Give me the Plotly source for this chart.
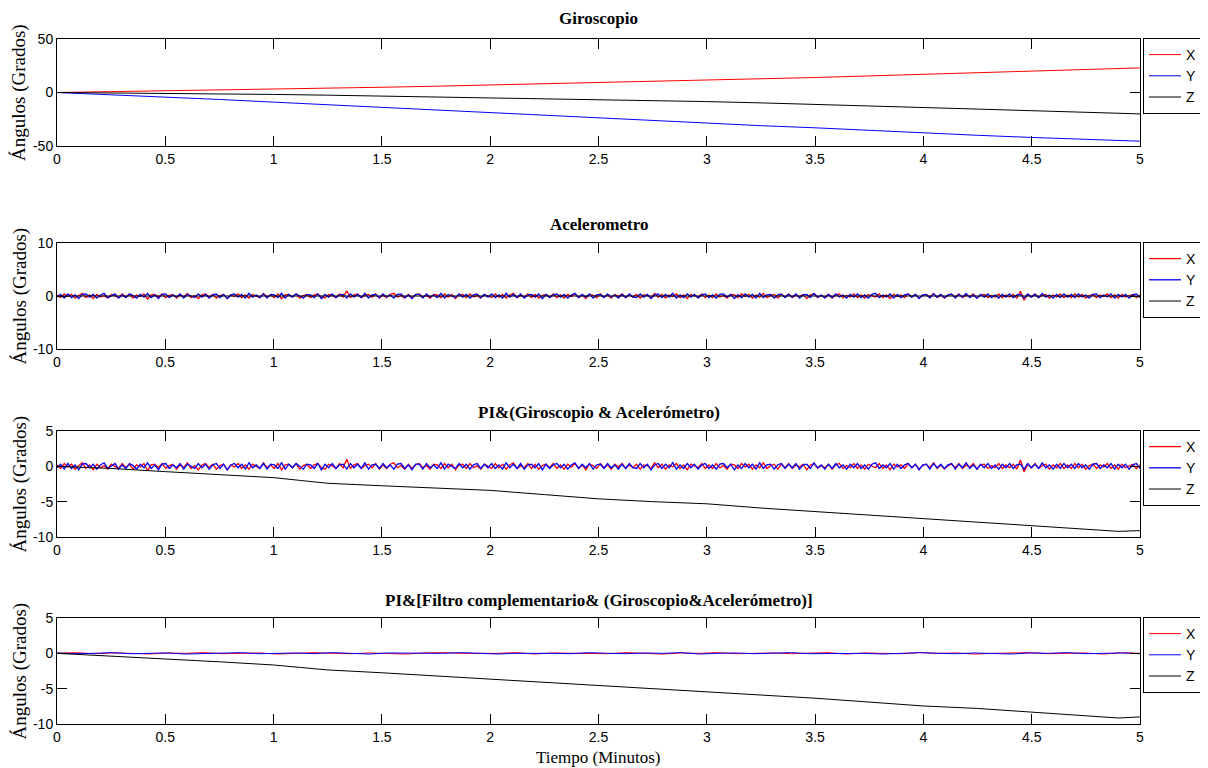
import numpy as np
import plotly.graph_objects as go

# ---------------- data ----------------
x_ticks = [0, 0.5, 1, 1.5, 2, 2.5, 3, 3.5, 4, 4.5, 5]
x_tick_labels = ["0", "0.5", "1", "1.5", "2", "2.5", "3", "3.5", "4", "4.5", "5"]

# Giroscopio
gyro_t = [0, 0.25, 0.5, 0.75, 1.0, 1.25, 1.5, 1.75, 2.0, 2.25, 2.5, 2.75, 3.0,
          3.25, 3.5, 3.75, 4.0, 4.25, 4.5, 4.75, 5.0]
gyro_x = [0, 0.7, 1.5, 2.2, 3.0, 3.9, 4.9, 5.9, 7.0, 8.0, 9.0, 10.2, 11.5,
          12.7, 14.0, 15.5, 17.0, 18.5, 20.0, 21.5, 23.0]
gyro_y = [0, -2, -4, -6.5, -9, -11.5, -14, -16.5, -19, -21.5, -24, -26.5, -29,
          -31, -33, -35.5, -38, -40, -42, -44, -45.5]
gyro_z = [0, -0.3, -0.8, -1.3, -1.8, -2.5, -3.3, -4.0, -4.7, -5.6, -6.5, -7.5, -8.5,
          -9.7, -11, -12.5, -14, -15.5, -17, -18.5, -20]

# Acelerometro (noise around zero, read by eye)
acc_x = [0.2, -0.3, 0.4, -0.1, 0.3, -0.4, 0.1, 0.5, -0.3, 0.2, -0.5, 0.3, -0.2, 0.1, -0.4, 0.3, 0.0, -0.3, 0.4, -0.2,
         0.3, -0.4, 0.2, -0.1, 0.4, -0.6, 0.2, 0.3, -0.2, 0.4, -0.3, 0.1, 0.3, -0.4, 0.2, -0.2, 0.5, -0.3, 0.1, -0.5,
         0.2, 0.4, -0.2, 0.3, -0.4, 0.1, 0.3, -0.5, 0.2, -0.1, 0.4, -0.3, 0.2, -0.4, 0.3, 0.0, -0.3, 0.5, -0.2, 0.2,
         -0.3, 0.4, -0.5, 0.2, 0.3, -0.2, 0.4, -0.4, 0.1, 0.3, -0.3, 0.2, 0.4, -0.2, -0.4, 0.3, 0.1, -0.3, 0.4, -0.2,
         1.0, -0.3, 0.2, 0.4, -0.3, 0.1, 0.3, -0.2, 0.4, -0.4, 0.2, -0.3, 0.3, 0.5, -0.2, 0.1, -0.4, 0.3, -0.3, 0.2,
         0.4, -0.2, 0.1, -0.4, 0.3, 0.2, -0.3, 0.4, -0.2, 0.3, -0.5, 0.2, 0.3, -0.3, 0.4, -0.2, 0.1, -0.4, 0.3, 0.0,
         -0.3, 0.4, -0.2, 0.3, -0.4, 0.2, 0.5, -0.3, 0.1, -0.2, 0.4, -0.3, 0.3, -0.4, 0.1, 0.3, -0.2, 0.4, -0.3, 0.2,
         -0.4, 0.3, -0.1, 0.4, -0.3, 0.2, -0.5, 0.3, 0.1, -0.3, 0.4, -0.2, 0.2, -0.4, 0.3, -0.1, 0.4, -0.3, 0.2, -0.2,
         0.3, -0.4, 0.2, 0.1, -0.3, 0.5, -0.2, 0.3, -0.4, 0.2, -0.1, 0.4, -0.3, 0.2, -0.5, 0.3, 0.1, -0.2, 0.4, -0.3,
         0.2, -0.3, 0.4, -0.2, 0.1, -0.4, 0.3, 0.2, -0.3, 0.4, -0.1, 0.3, -0.4, 0.2, -0.2, 0.5, -0.3, 0.1, 0.3, -0.4,
         0.3, -0.2, 0.4, -0.3, 0.2, -0.1, 0.3, -0.5, 0.2, 0.4, -0.3, 0.1, -0.2, 0.3, -0.4, 0.2, 0.4, -0.3, 0.1, -0.2,
         0.4, -0.3, 0.2, -0.4, 0.3, 0.1, -0.2, 0.4, -0.3, 0.2, -0.5, 0.3, -0.1, 0.2, -0.3, 0.4, -0.2, 0.3, -0.4, 0.1,
         0.3, -0.2, 0.5, -0.3, 0.2, -0.4, 0.1, 0.3, -0.2, 0.4, -0.3, 0.2, -0.1, 0.4, -0.4, 0.2, 0.3, -0.3, 0.1, -0.2,
         0.4, -0.3, 0.2, -0.2, 0.3, -0.4, 0.9, -0.8, 0.3, -0.2, 0.4, -0.3, 0.1, 0.3, -0.4, 0.2, -0.2, 0.4, -0.3, 0.2,
         -0.3, 0.4, -0.2, 0.3, -0.4, 0.1, 0.3, -0.3, 0.2, -0.1, 0.4, -0.3, 0.2, -0.4, 0.3, -0.2, 0.1, 0.3, -0.3, 0.2]
acc_y = [-0.2, 0.3, -0.4, 0.4, -0.3, 0.2, -0.5, 0.3, 0.4, -0.2, 0.3, -0.4, 0.2, 0.5, -0.3, 0.1, 0.4, -0.4, 0.2, -0.3,
         0.4, 0.1, -0.4, 0.3, -0.2, 0.5, -0.3, 0.2, -0.5, 0.3, 0.4, -0.3, 0.2, -0.2, 0.4, -0.4, 0.3, 0.0, -0.3, 0.4,
         -0.2, 0.3, -0.4, 0.2, 0.4, -0.3, 0.3, -0.5, 0.2, 0.4, -0.2, 0.3, -0.4, 0.5, -0.2, 0.2, -0.3, 0.4, -0.4, 0.3,
         0.2, -0.3, 0.5, -0.4, 0.3, -0.2, 0.4, 0.0, -0.4, 0.3, 0.2, -0.3, 0.4, -0.5, 0.3, -0.2, 0.4, -0.3, 0.2, 0.3,
         -0.4, 0.4, -0.2, 0.3, -0.3, 0.5, -0.4, 0.2, 0.3, -0.3, 0.4, -0.2, 0.2, -0.4, 0.3, 0.4, -0.3, 0.2, -0.5, 0.3,
         0.3, -0.4, 0.4, -0.2, 0.2, -0.3, 0.5, -0.4, 0.3, 0.0, -0.3, 0.4, -0.2, 0.3, -0.4, 0.2, 0.4, -0.3, 0.3, -0.2,
         0.4, -0.3, 0.2, -0.4, 0.5, -0.2, 0.3, -0.3, 0.4, -0.4, 0.2, 0.3, -0.2, 0.4, -0.5, 0.3, -0.3, 0.2, 0.4, -0.2,
         0.3, -0.4, 0.2, 0.5, -0.3, 0.3, -0.2, 0.4, -0.4, 0.2, 0.3, -0.3, 0.4, -0.2, 0.2, -0.4, 0.3, -0.3, 0.4, -0.2,
         -0.3, 0.4, -0.2, 0.3, -0.5, 0.2, 0.4, -0.3, 0.3, -0.2, 0.5, -0.4, 0.2, -0.3, 0.4, -0.2, 0.3, -0.4, 0.2, 0.4,
         -0.3, 0.2, -0.4, 0.3, 0.4, -0.2, 0.3, -0.5, 0.2, -0.3, 0.4, -0.2, 0.3, -0.4, 0.5, -0.3, 0.2, 0.3, -0.4, 0.2,
         0.4, -0.3, 0.3, -0.2, 0.4, -0.4, 0.2, 0.3, -0.3, 0.5, -0.2, 0.2, -0.4, 0.3, -0.3, 0.4, -0.2, 0.2, -0.4, 0.3,
         -0.2, 0.4, -0.3, 0.2, -0.4, 0.3, 0.5, -0.3, 0.2, -0.2, 0.4, -0.4, 0.3, -0.3, 0.2, 0.4, -0.2, 0.3, -0.5, 0.2,
         0.3, -0.4, 0.4, -0.2, 0.3, -0.3, 0.2, 0.4, -0.4, 0.3, -0.2, 0.5, -0.3, 0.2, -0.4, 0.3, -0.2, 0.4, -0.3, 0.2,
         -0.4, 0.3, -0.2, 0.4, -0.3, 0.2, 0.3, -0.4, 0.4, -0.2, 0.3, -0.3, 0.5, -0.2, 0.2, -0.4, 0.3, -0.3, 0.4, -0.2,
         0.3, -0.3, 0.4, -0.2, 0.2, -0.4, 0.3, 0.4, -0.3, 0.2, -0.2, 0.4, -0.4, 0.3, -0.2, 0.3, -0.4, 0.2, 0.4, -0.3]
acc_z_t = [0, 5]
acc_z = [0, 0]

# PI & (Giroscopio & Acelerometro) -> Z drift
z_t = [0, 0.25, 0.5, 0.75, 1.0, 1.125, 1.25, 1.5, 1.75, 2.0, 2.25, 2.5, 2.75, 3.0,
       3.25, 3.5, 3.75, 4.0, 4.25, 4.5, 4.75, 4.9, 5.0]
pi_z = [0, -0.3, -0.75, -1.2, -1.6, -2.0, -2.4, -2.75, -3.1, -3.4, -4.0, -4.6, -5.0, -5.3,
        -5.9, -6.4, -6.8, -7.4, -7.8, -8.3, -8.8, -9.2, -9.1]

# PI & [Filtro complementario & (...)]
fc_x = [0.0, 0.1, -0.05, 0.05, 0.0, -0.1, 0.05, 0.0, 0.1, -0.05, 0.0, 0.05, -0.1, 0.0, 0.1, 0.0, -0.05, 0.05, 0.0, -0.1,
        0.05, 0.1, 0.0, -0.05, 0.0, 0.1, -0.1, 0.05, 0.0, 0.05, -0.05, 0.1, 0.0, -0.1, 0.05, 0.0, 0.1, -0.05, 0.0, 0.05,
        -0.05, 0.0, 0.1, -0.1, 0.05, 0.0, -0.05, 0.1, 0.0, 0.05, -0.1, 0.0, 0.05, 0.1, -0.05, 0.0, 0.05, -0.1, 0.1, 0.0]
fc_y = [0.05, -0.05, 0.0, 0.1, -0.05, 0.0, 0.05, -0.1, 0.0, 0.05, 0.1, -0.05, 0.0, 0.05, -0.05, 0.1, 0.0, -0.1, 0.05, 0.0,
        -0.05, 0.0, 0.1, 0.05, -0.1, 0.0, 0.05, 0.0, -0.05, 0.1, 0.0, -0.05, 0.05, 0.0, 0.1, -0.1, 0.0, 0.05, -0.05, 0.0,
        0.1, -0.05, 0.0, 0.05, 0.0, -0.1, 0.05, 0.1, 0.0, -0.05, 0.05, 0.0, -0.1, 0.05, 0.0, 0.1, -0.05, 0.0, 0.05, -0.05]
fc_z = [0, -0.35, -0.8, -1.2, -1.65, -2.0, -2.35, -2.75, -3.2, -3.6, -4.1, -4.6, -5.0, -5.4,
        -5.9, -6.35, -6.9, -7.45, -7.8, -8.3, -8.8, -9.15, -9.0]

titles = ["Giroscopio", "Acelerometro", "PI&(Giroscopio & Acelerómetro)",
          "PI&[Filtro complementario& (Giroscopio&Acelerómetro)]"]
y_label = "Ángulos (Grados)"
x_label = "Tiempo (Minutos)"
series_names = ["X", "Y", "Z"]
colors = ["#ff0000", "#0000ff", "#000000"]

acc_tx = list(np.linspace(0, 5, len(acc_x)))
acc_ty = list(np.linspace(0, 5, len(acc_y)))
fc_tx = list(np.linspace(0, 5, len(fc_x)))
fc_ty = list(np.linspace(0, 5, len(fc_y)))

panels = [
    dict(data=[(gyro_t, gyro_x), (gyro_t, gyro_y), (gyro_t, gyro_z)],
         yrange=[-50, 50], yticks=[-50, 0, 50], noisy=False),
    dict(data=[(acc_tx, acc_x), (acc_ty, acc_y), (acc_z_t, acc_z)],
         yrange=[-10, 10], yticks=[-10, 0, 10], noisy=True),
    dict(data=[(acc_tx, acc_x), (acc_ty, acc_y), (z_t, pi_z)],
         yrange=[-10, 5], yticks=[-10, -5, 0, 5], noisy=True),
    dict(data=[(fc_tx, fc_x), (fc_ty, fc_y), (z_t, fc_z)],
         yrange=[-10, 5], yticks=[-10, -5, 0, 5], noisy=False),
]

# ---------------- layout geometry (pixels; page body has an 8px margin) ----------------
OFF = 8
W, H = 1208 - OFF, 768 - OFF
x_left, x_right = 57 - OFF, 1140 - OFF
panel_px = [(39 - OFF, 146 - OFF), (243 - OFF, 349 - OFF), (431 - OFF, 537 - OFF), (618 - OFF, 724 - OFF)]
title_px = [19 - OFF, 225 - OFF, 412 - OFF, 600 - OFF]

fig = go.Figure()
sans = "Liberation Sans, Arial, sans-serif"
serif = "Liberation Serif, Times New Roman, serif"

annotations = []
for i, p in enumerate(panels):
    n = i + 1
    xa = "x" if n == 1 else f"x{n}"
    ya = "y" if n == 1 else f"y{n}"
    lg = "legend" if n == 1 else f"legend{n}"
    for k, (tt, vv) in enumerate(p["data"]):
        lw = 1.3 if (p["noisy"] and k < 2) else 1
        fig.add_trace(go.Scatter(
            x=tt, y=vv, mode="lines", name=series_names[k],
            line=dict(color=colors[k], width=lw),
            xaxis=xa, yaxis=ya, legend=lg, showlegend=True))
    top, bot = panel_px[i]
    dom_y = [1 - bot / H, 1 - top / H]
    axis_common = dict(showline=True, linecolor="black", linewidth=1, mirror="allticks",
                       ticks="inside", ticklen=10, tickcolor="black", showgrid=False,
                       zeroline=False, automargin=False,
                       tickfont=dict(family=sans, size=14, color="black"))
    fig.layout[f"xaxis{'' if n == 1 else n}"] = dict(
        domain=[x_left / W, x_right / W], anchor=ya, range=[0, 5],
        tickvals=x_ticks, ticktext=x_tick_labels, **axis_common)
    fig.layout[f"yaxis{'' if n == 1 else n}"] = dict(
        domain=dom_y, anchor=xa, range=p["yrange"], tickvals=p["yticks"],
        ticktext=[str(v) for v in p["yticks"]], **axis_common)
    fig.layout[lg] = dict(
        x=(1143 - OFF) / W, y=1 - (top - 1) / H, xanchor="left", yanchor="top",
        bordercolor="black", borderwidth=1, bgcolor="white",
        font=dict(family=sans, size=14, color="black"),
        tracegroupgap=0, itemwidth=32)
    annotations.append(dict(
        text=f"<b>{titles[i]}</b>", x=(x_left + x_right) / 2 / W, y=1 - title_px[i] / H,
        xref="paper", yref="paper", showarrow=False, xanchor="center", yanchor="middle",
        font=dict(family=serif, size=17, color="black")))
    annotations.append(dict(
        text=y_label, x=(19.5 - OFF) / W, y=1 - (top + bot) / 2 / H, xref="paper", yref="paper",
        showarrow=False, textangle=-90, xanchor="center", yanchor="middle",
        font=dict(family=serif, size=19, color="black")))

annotations.append(dict(
    text=x_label, x=(x_left + x_right) / 2 / W, y=1 - (757 - OFF) / H, xref="paper", yref="paper",
    showarrow=False, xanchor="center", yanchor="middle",
    font=dict(family=serif, size=17, color="black")))

fig.update_layout(
    width=W, height=H, margin=dict(l=0, r=0, t=0, b=0, autoexpand=False),
    paper_bgcolor="white", plot_bgcolor="white",
    annotations=annotations, showlegend=True)

fig.write_html("out.html")
